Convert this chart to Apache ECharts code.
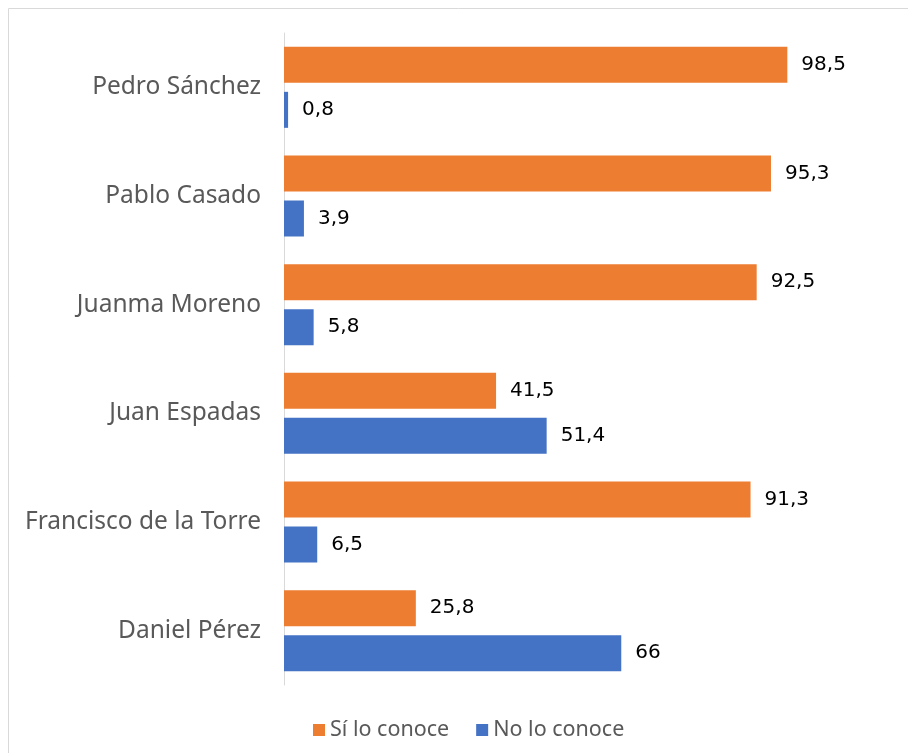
<!DOCTYPE html>
<html>
<head>
<meta charset="utf-8">
<title>Conocimiento de candidatos</title>
<script src="https://cdn.jsdelivr.net/npm/echarts@6/dist/echarts.min.js"></script>
<style>
  html, body { margin: 0; padding: 0; background: #fff; }
  #main { width: 908px; height: 753px; }
</style>
</head>
<body>
<div id="main"></div>
<script type="text/javascript">
// datos (de arriba a abajo)
var candidatos = ['Pedro Sánchez', 'Pablo Casado', 'Juanma Moreno', 'Juan Espadas', 'Francisco de la Torre', 'Daniel Pérez'];
var siConoce = [98.5, 95.3, 92.5, 41.5, 91.3, 25.8];
var noConoce = [0.8, 3.9, 5.8, 51.4, 6.5, 66];
var nombresSeries = ['Sí lo conoce', 'No lo conoce'];

var fmt = function (p) { return String(p.value).replace('.', ','); };

var chart = echarts.init(document.getElementById('main'));
var option = {
    animation: false,
    graphic: [{
        type: 'rect',
        shape: { x: 8.5, y: 8.5, width: 920, height: 760 },
        style: { fill: 'none', stroke: '#d9d9d9', lineWidth: 1 }
    }],
    grid: { left: 284, top: 33, width: 511, height: 652 },
    legend: {
        data: nombresSeries,
        top: 714,
        left: 308,
        itemWidth: 12,
        itemHeight: 12,
        itemGap: 27,
        icon: 'rect',
        textStyle: { color: '#595959', fontSize: 21.5, fontFamily: 'Noto Sans' }
    },
    xAxis: {
        type: 'value',
        min: 0,
        max: 100,
        show: false
    },
    yAxis: {
        type: 'category',
        data: candidatos,
        inverse: true,
        axisLine: { lineStyle: { color: '#d9d9d9' } },
        axisTick: { show: false },
        axisLabel: { color: '#595959', fontSize: 24.5, fontFamily: 'Noto Sans', margin: 23 }
    },
    series: [{
        name: nombresSeries[0],
        type: 'bar',
        data: siConoce,
        barWidth: 36,
        barGap: '25%',
        itemStyle: { color: '#ed7d31' },
        label: { show: true, position: 'right', distance: 14, color: '#000', fontSize: 20, fontFamily: 'DejaVu Sans', formatter: fmt }
    }, {
        name: nombresSeries[1],
        type: 'bar',
        data: noConoce,
        barWidth: 36,
        barGap: '25%',
        itemStyle: { color: '#4472c4' },
        label: { show: true, position: 'right', distance: 14, color: '#000', fontSize: 20, fontFamily: 'DejaVu Sans', formatter: fmt }
    }]
};
chart.setOption(option);
</script>
</body>
</html>
